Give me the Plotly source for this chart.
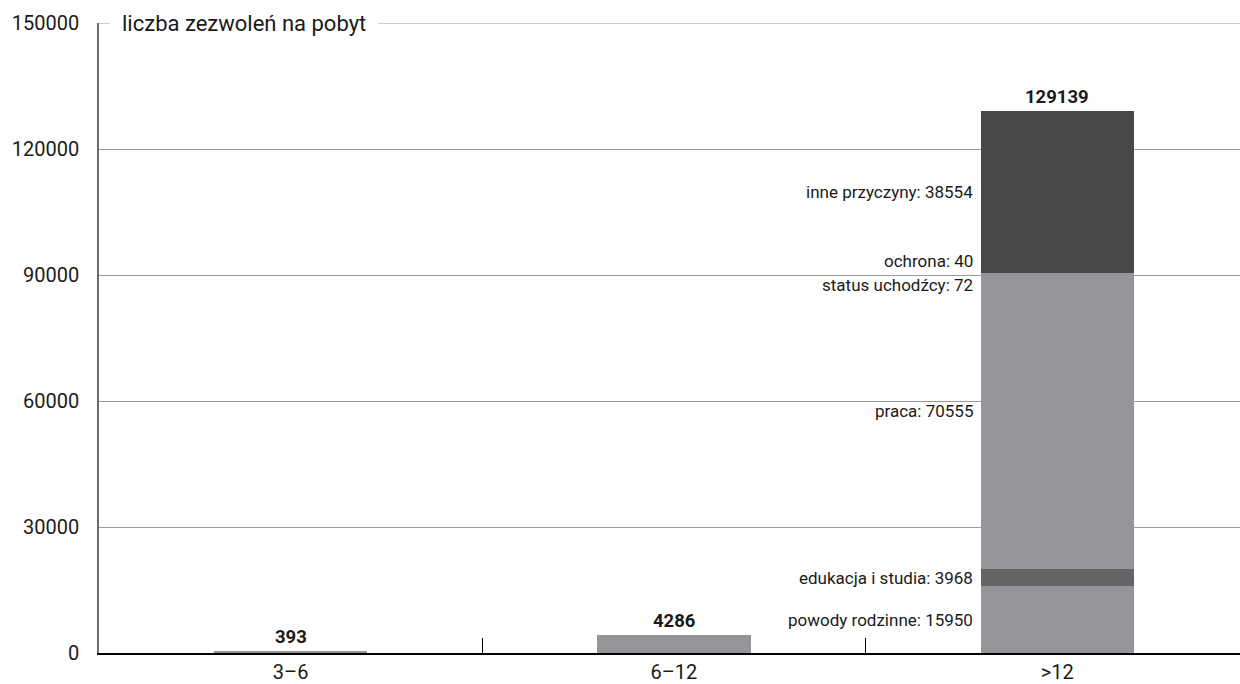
import plotly.graph_objects as go

# Age groups (years) and total residence permits per group
categories = ["3–6", "6–12", ">12"]
totals = [393, 4286, 129139]

# Breakdown of the ">12" group by reason
reasons = ["powody rodzinne", "edukacja i studia", "praca",
           "status uchodźcy", "ochrona", "inne przyczyny"]
reason_values = [15950, 3968, 70555, 72, 40, 38554]

y_ticks = [0, 30000, 60000, 90000, 120000, 150000]
y_title = "liczba zezwoleń na pobyt"

LIGHT = "#939598"
MID = "#636466"
DARK = "#48484a"
reason_colors = [LIGHT, MID, LIGHT, LIGHT, DARK, DARK]
TEXT = "#1a1a1a"
GRID = "#9a9a9a"
FONT = "Roboto"

fig = go.Figure()

# groups without a breakdown
fig.add_trace(go.Bar(
    x=categories[:2], y=totals[:2], width=0.4,
    marker=dict(color=LIGHT, line=dict(width=0)),
    showlegend=False, hoverinfo="x+y",
))

# stacked breakdown for the oldest group
for name, val, col in zip(reasons, reason_values, reason_colors):
    fig.add_trace(go.Bar(
        x=[categories[2]], y=[val], width=0.4, name=name,
        marker=dict(color=col, line=dict(width=0)),
        showlegend=False,
    ))

annotations = []

# totals above each bar
for i, (cat, tot) in enumerate(zip(categories, totals)):
    annotations.append(dict(
        x=i, y=tot, xref="x", yref="y", text=f"<b>{tot}</b>",
        showarrow=False, yanchor="bottom", yshift=1,
        font=dict(family=FONT, size=18.5, color=TEXT, weight=900),
    ))

# reason labels to the left of the stacked bar
bottoms = []
acc = 0
for v in reason_values:
    bottoms.append(acc)
    acc += v

label_pos = {
    "powody rodzinne": ("mid", 0),
    "edukacja i studia": ("mid", 0),
    "praca": ("mid", 10),
    "status uchodźcy": ("below", 0),
    "ochrona": ("above", 0),
    "inne przyczyny": ("mid", 0),
}
for name, val, b in zip(reasons, reason_values, bottoms):
    mode, shift = label_pos[name]
    if mode == "mid":
        y, anchor = b + val / 2, "middle"
    elif mode == "below":
        y, anchor = b, "top"
    else:
        y, anchor = b + val, "bottom"
    annotations.append(dict(
        x=2 - 0.2, y=y, xref="x", yref="y", text=f"{name}: {val}",
        showarrow=False, xanchor="right", yanchor=anchor,
        xshift=-6, yshift=shift,
        font=dict(family=FONT, size=17, color=TEXT),
    ))

# axis title sitting on the top gridline
annotations.append(dict(
    x=0.0085, y=y_ticks[-1], xref="paper", yref="y", text=y_title,
    showarrow=False, xanchor="left", yanchor="middle",
    bgcolor="white", borderpad=12,
    font=dict(family=FONT, size=22, color=TEXT),
))

fig.update_layout(
    width=1240, height=684,
    margin=dict(l=99, r=0, t=23, b=31),
    barmode="stack", bargap=0.6,
    plot_bgcolor="white", paper_bgcolor="white",
    font=dict(family=FONT, size=20, color=TEXT),
    annotations=annotations,
    # top gridline at the upper end of the range
    shapes=[dict(type="line", xref="paper", yref="y", x0=0, x1=1,
                 y0=y_ticks[-1], y1=y_ticks[-1], layer="below",
                 line=dict(color=GRID, width=1))],
)

fig.update_xaxes(
    type="category", categoryorder="array", categoryarray=categories,
    range=[-0.5, 2.477], automargin=False,
    showline=True, linecolor="black", linewidth=2,
    ticks="inside", tickson="boundaries", ticklen=15, tickwidth=1,
    tickcolor="black", showgrid=False, ticklabelstandoff=0,
    tickfont=dict(family=FONT, size=20, color=TEXT),
)

fig.update_yaxes(
    range=[0, 150000], tickvals=y_ticks, automargin=False,
    ticktext=[str(v) for v in y_ticks],
    showline=True, linecolor="#6e6e6e", linewidth=1.5,
    showgrid=True, gridcolor=GRID, gridwidth=1,
    zeroline=False, ticks="", ticklabelstandoff=14,
    tickfont=dict(family=FONT, size=20, color=TEXT),
)

fig.write_html("out.html")
